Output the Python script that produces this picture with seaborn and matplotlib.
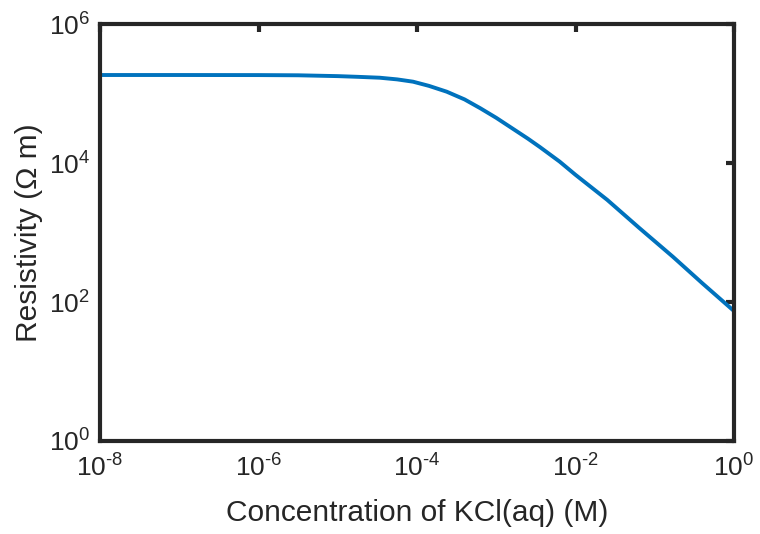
import numpy as np
import pandas as pd
import matplotlib
matplotlib.use("Agg")
import matplotlib.pyplot as plt
import seaborn as sns
from matplotlib.ticker import NullLocator, FuncFormatter

# Data (log10 values)
log_conc = [-8.0, -7.0, -6.0, -5.5, -5.0, -4.75, -4.47, -4.25, -4.05, -3.85, -3.625,
            -3.4, -3.2, -3.0, -2.8, -2.6, -2.45, -2.2, -2.0, -1.6, -1.2, -0.77, -0.4, 0.0]
log_res = [5.266, 5.266, 5.265, 5.262, 5.250, 5.240, 5.227, 5.203, 5.170, 5.110, 5.026,
           4.915, 4.787, 4.650, 4.500, 4.350, 4.230, 4.020, 3.830, 3.470, 3.070, 2.650, 2.270, 1.870]
x_ticks = [1e-8, 1e-6, 1e-4, 1e-2, 1e0]
y_ticks = [1e0, 1e2, 1e4, 1e6]

conc = [10 ** v for v in log_conc]
res = [10 ** v for v in log_res]
df = pd.DataFrame({"conc": conc, "res": res})

sns.set_theme(style="white")
plt.rcParams["font.family"] = ["Liberation Sans", "DejaVu Sans"]
plt.rcParams["mathtext.fontset"] = "custom"
plt.rcParams["mathtext.rm"] = "Liberation Sans"
plt.rcParams["mathtext.it"] = "Liberation Sans:italic"
plt.rcParams["mathtext.default"] = "regular"
plt.rcParams["axes.unicode_minus"] = False


def fmt(v, pos):
    e = int(round(np.log10(v)))
    return r"$10^{\text{%d}}$" % e


fig = plt.figure(figsize=(7.6, 5.34), dpi=100)
ax = fig.add_axes([100 / 760, 1 - 441 / 534, 634 / 760, 417 / 534])

sns.lineplot(data=df, x="conc", y="res", ax=ax, color="#0072BD", linewidth=2.8, sort=False)

ax.set_xscale("log")
ax.set_yscale("log")
ax.set_xlim(1e-8, 1e0)
ax.set_ylim(1e0, 1e6)
ax.set_xticks(x_ticks)
ax.set_yticks(y_ticks)
ax.xaxis.set_major_formatter(FuncFormatter(fmt))
ax.yaxis.set_major_formatter(FuncFormatter(fmt))
ax.xaxis.set_minor_locator(NullLocator())
ax.yaxis.set_minor_locator(NullLocator())

for sp in ax.spines.values():
    sp.set_visible(True)
    sp.set_linewidth(3)
    sp.set_color("#262626")

ax.tick_params(axis="both", which="major", direction="in", length=6, width=3,
               color="#262626", labelsize=19, labelcolor="#262626",
               top=True, right=True)
ax.tick_params(axis="x", pad=10)
ax.tick_params(axis="y", pad=7)

ax.set_xlabel("Concentration of KCl(aq) (M)", fontsize=21.5, color="#262626", labelpad=12)
ax.set_ylabel("Resistivity (Ω m)", fontsize=21.5, color="#262626", labelpad=4)
ax.grid(False)

fig.savefig("out.png", dpi=100)
